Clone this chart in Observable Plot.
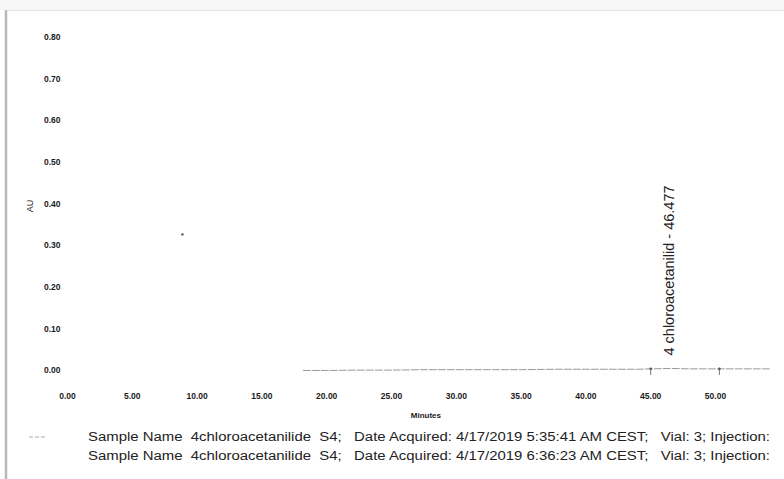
<!DOCTYPE html>
<html>
<head>
<meta charset="utf-8">
<script src="https://cdn.jsdelivr.net/npm/d3@7"></script>
<script src="https://cdn.jsdelivr.net/npm/@observablehq/plot@0.6"></script>
<style>
  html, body { margin: 0; padding: 0; background: #fff; }
  #chart { position: relative; width: 784px; height: 479px; overflow: hidden; }
  #chart svg { position: absolute; left: 0; top: 0; }
</style>
</head>
<body>
<div id="chart"></div>
<script>
// Chromatogram trace (retention time in minutes, absorbance in AU)
const traceMinutes = [18.2, 20.0, 22.5, 25.0, 27.5, 30.0, 32.5, 35.0, 37.5, 40.0, 42.5, 44.0, 45.0, 46.5, 48.0, 50.3, 52.0, 54.2];
const traceAU      = [0.000, 0.000, 0.001, 0.001, 0.002, 0.002, 0.002, 0.002, 0.003, 0.003, 0.003, 0.003, 0.004, 0.005, 0.004, 0.004, 0.004, 0.004];

// Integration markers (peak start / end)
const markerMinutes = [45.0, 50.3];
const markerAU      = [0.004, 0.004];

// Identified peak
const peakNames   = ["4 chloroacetanilid - 46.477"];
const peakMinutes = [46.477];
const peakLabelAU = [0.036];

// Stray spot on the trace window
const spotMinutes = [8.87];
const spotAU      = [0.327];

// Axis ticks
const xTicks = [0, 5, 10, 15, 20, 25, 30, 35, 40, 45, 50];
const yTicks = [0, 0.1, 0.2, 0.3, 0.4, 0.5, 0.6, 0.7, 0.8];

// Legend rows
const legendRows = [
  "Sample Name  4chloroacetanilide  S4;   Date Acquired: 4/17/2019 5:35:41 AM CEST;   Vial: 3; Injection:",
  "Sample Name  4chloroacetanilide  S4;   Date Acquired: 4/17/2019 6:36:23 AM CEST;   Vial: 3; Injection:"
];

const trace = traceMinutes.map((t, i) => ({t, au: traceAU[i]}));
const markers = markerMinutes.map((t, i) => ({t, au: markerAU[i]}));
const peaks = peakNames.map((name, i) => ({name, t: peakMinutes[i], au: peakLabelAU[i]}));
const spots = spotMinutes.map((t, i) => ({t, au: spotAU[i]}));

const fmt = d3.format(".2f");
const font = "'Liberation Sans', Arial, sans-serif";

const plot = Plot.plot({
  width: 784,
  height: 479,
  marginLeft: 67,
  marginRight: 4.2,
  marginTop: 37,
  marginBottom: 96.5,
  style: {background: "transparent", fontFamily: font, color: "#222"},
  x: {domain: [0, 55], ticks: xTicks, tickFormat: fmt, tickSize: 0, tickPadding: 10, label: null},
  y: {domain: [-0.03, 0.8], ticks: yTicks, tickFormat: fmt, tickSize: 0, tickPadding: 7, label: null},
  marks: [
    Plot.axisX({ticks: xTicks, tickFormat: fmt, tickSize: 0, tickPadding: 10, fontSize: 8.5, fontWeight: "bold", fill: "#1a1a1a", label: null}),
    Plot.axisY({ticks: yTicks, tickFormat: fmt, tickSize: 0, tickPadding: 7, fontSize: 8.5, fontWeight: "bold", fill: "#1a1a1a", label: null}),
    Plot.line(trace, {x: "t", y: "au", stroke: "#9a9a9a", strokeWidth: 1, strokeDasharray: "7,2"}),
    Plot.ruleX(markers, {x: "t", y1: (d) => d.au - 0.004, y2: (d) => d.au - 0.016, stroke: "#777", strokeWidth: 1}),
    Plot.dot(markers, {x: "t", y: "au", r: 1.3, fill: "#555"}),
    Plot.dot(spots, {x: "t", y: "au", r: 1.2, fill: "#555"}),
    Plot.text(peaks, {x: "t", y: "au", text: "name", rotate: -90, textAnchor: "start", fontSize: 14.5, fill: "#222"}),
    Plot.text(["AU"], {frameAnchor: "left", dx: -37, dy: 2, rotate: -90, fontSize: 9, fill: "#222"}),
    Plot.text(["Minutes"], {frameAnchor: "bottom", dx: 2, dy: 35, fontSize: 8, fontWeight: "bold", fill: "#222"})
  ]
});

document.getElementById("chart").appendChild(plot);

// Page edge and the legend below the chart
const svg = d3.select(plot);
svg.insert("rect", ":first-child").attr("x", 0).attr("y", 0).attr("width", 784).attr("height", 10).attr("fill", "#f6f6f6");
svg.insert("line", ":first-child").attr("x1", 6).attr("x2", 784).attr("y1", 10.5).attr("y2", 10.5).attr("stroke", "#e4e4e4");
svg.append("line").attr("x1", 6).attr("x2", 6).attr("y1", 10).attr("y2", 479).attr("stroke", "#b8b8b8").attr("stroke-width", 2.5);

svg.append("line").attr("x1", 29).attr("x2", 46).attr("y1", 437).attr("y2", 437)
  .attr("stroke", "#aaa").attr("stroke-width", 1).attr("stroke-dasharray", "4,2");

svg.append("g").attr("text-anchor", "start").selectAll("text").data(legendRows).join("text")
  .attr("x", 88)
  .attr("y", (d, i) => 441 + i * 19)
  .attr("textLength", 682)
  .attr("lengthAdjust", "spacingAndGlyphs")
  .style("white-space", "pre")
  .attr("font-family", font)
  .attr("font-size", 12)
  .attr("fill", "#222")
  .text((d) => d);
</script>
</body>
</html>
